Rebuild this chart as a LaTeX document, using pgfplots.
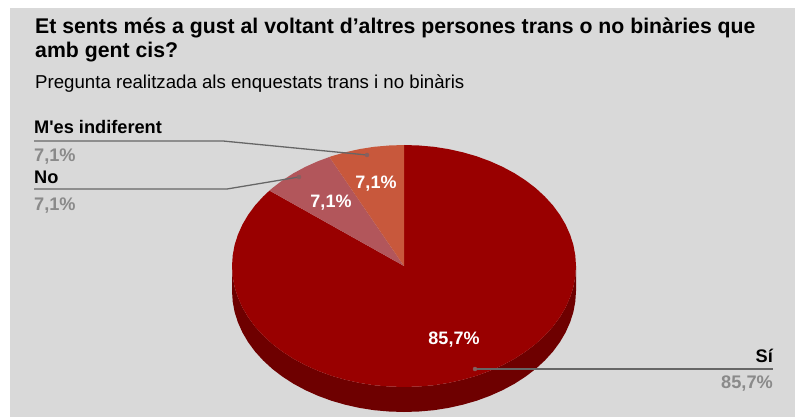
\documentclass[border=0pt]{standalone}
\usepackage{pgfplots}
\pgfplotsset{compat=1.18}
\usepackage{fontspec}
\setmainfont{Liberation Sans}
\newfontfamily\plainapos[Ligatures=NoCommon]{Liberation Sans}

\definecolor{bg}{HTML}{D9D9D9}
\definecolor{si}{HTML}{990000}
\definecolor{sidark}{HTML}{6E0000}
\definecolor{noslice}{HTML}{B2565B}
\definecolor{mes}{HTML}{C8583C}
\definecolor{leader}{HTML}{666666}
\definecolor{pct}{HTML}{8A8A8A}

\begin{document}
\begin{tikzpicture}
\begin{axis}[
  scale only axis,
  width=795pt,
  height=417pt,
  xmin=0, xmax=795,
  ymin=0, ymax=417,
  y dir=reverse,
  axis lines=none,
  clip=true,
]
% page and panel
\addplot[fill=white, draw=none] coordinates {(0,0) (795,0) (795,417) (0,417)} -- cycle;
\addplot[fill=bg, draw=none] coordinates {(10,8) (795,8) (795,417) (10,417)} -- cycle;

% pie side, lower half of the rim
\addplot[fill=sidark, draw=none] coordinates {
  (576,266) (575.3,276.5) (573.4,287) (570.1,297.3) (565.6,307.4) (559.9,317.1) (553,326.5)
  (544.9,335.4) (535.8,343.8) (525.6,351.6) (514.6,358.7) (502.7,365.1) (490,370.8)
  (476.7,375.7) (462.8,379.7) (448.5,382.9) (433.9,385.2) (419,386.5) (404,387)
  (389,386.5) (374.1,385.2) (359.5,382.9) (345.2,379.7) (331.3,375.7) (318,370.8)
  (305.3,365.1) (293.4,358.7) (282.4,351.6) (272.2,343.8) (263.1,335.4) (255,326.5)
  (248.1,317.1) (242.4,307.4) (237.9,297.3) (234.6,287) (232.7,276.5) (232,266)
  (232,291) (232.7,301.5) (234.6,312) (237.9,322.3) (242.4,332.4) (248.1,342.1) (255,351.5)
  (263.1,360.4) (272.2,368.8) (282.4,376.6) (293.4,383.7) (305.3,390.1) (318,395.8)
  (331.3,400.7) (345.2,404.7) (359.5,407.9) (374.1,410.2) (389,411.5) (404,412)
  (419,411.5) (433.9,410.2) (448.5,407.9) (462.8,404.7) (476.7,400.7) (490,395.8)
  (502.7,390.1) (514.6,383.7) (525.6,376.6) (535.8,368.8) (544.9,360.4) (553,351.5)
  (559.9,342.1) (565.6,332.4) (570.1,322.3) (573.4,312) (575.3,301.5) (576,291)
} -- cycle;

% Sí, 85,7%
\addplot[fill=si, draw=none] coordinates {
  (404,266) (404,145) (419,145.5) (433.9,146.8) (448.5,149.1) (462.8,152.3) (476.7,156.3)
  (490,161.2) (502.7,166.9) (514.6,173.3) (525.6,180.4) (535.8,188.2) (544.9,196.6)
  (553,205.5) (559.9,214.9) (565.6,224.6) (570.1,234.7) (573.4,245) (575.3,255.5) (576,266)
  (575.3,276.5) (573.4,287) (570.1,297.3) (565.6,307.4) (559.9,317.1) (553,326.5)
  (544.9,335.4) (535.8,343.8) (525.6,351.6) (514.6,358.7) (502.7,365.1) (490,370.8)
  (476.7,375.7) (462.8,379.7) (448.5,382.9) (433.9,385.2) (419,386.5) (404,387)
  (389,386.5) (374.1,385.2) (359.5,382.9) (345.2,379.7) (331.3,375.7) (318,370.8)
  (305.3,365.1) (293.4,358.7) (282.4,351.6) (272.2,343.8) (263.1,335.4) (255,326.5)
  (248.1,317.1) (242.4,307.4) (237.9,297.3) (234.6,287) (232.7,276.5) (232,266)
  (232.7,255.5) (234.6,245) (237.9,234.7) (242.4,224.6) (248.1,214.9) (255,205.5)
  (263.1,196.6) (269.5,190.6)
} -- cycle;
% No, 7,1%
\addplot[fill=noslice, draw=none] coordinates {
  (404,266) (269.5,190.6) (272.2,188.2) (282.4,180.4) (293.4,173.3) (305.3,166.9) (318,161.2) (329.4,157)
} -- cycle;
% M'es indiferent, 7,1%
\addplot[fill=mes, draw=none] coordinates {
  (404,266) (329.4,157) (331.3,156.3) (345.2,152.3) (359.5,149.1) (374.1,146.8) (389,145.5) (404,145)
} -- cycle;

% leader lines
\addplot[leader, line width=1.3pt] coordinates {(34,141) (223,141) (367,155)};
\addplot[leader, line width=1.3pt] coordinates {(34,189) (227,189) (299,177)};
\addplot[leader, line width=1.3pt] coordinates {(475,369) (773,369)};
\addplot[only marks, mark=*, mark size=2pt, color=gray!75!si, mark options={draw=none}]
  coordinates {(367,155) (299,177) (475,369)};

% title and subtitle
\node[anchor=base west, inner sep=0pt, font=\bfseries\fontsize{21.25}{22}\selectfont] at (axis cs:35,34) {Et sents més a gust al voltant d’altres persones trans o no binàries que};
\node[anchor=base west, inner sep=0pt, font=\bfseries\fontsize{21.25}{22}\selectfont] at (axis cs:35,58) {amb gent cis?};
\node[anchor=base west, inner sep=0pt, font=\fontsize{18.65}{19}\selectfont] at (axis cs:35,89) {Pregunta realitzada als enquestats trans i no binàris};

% outside labels
\node[anchor=base west, inner sep=0pt, font=\plainapos\bfseries\fontsize{18.2}{18}\selectfont] at (axis cs:34,134) {M'es indiferent};
\node[anchor=base west, inner sep=0pt, text=pct, font=\bfseries\fontsize{18.2}{18}\selectfont] at (axis cs:34,161) {7,1\%};
\node[anchor=base west, inner sep=0pt, font=\bfseries\fontsize{18.2}{18}\selectfont] at (axis cs:34,183) {No};
\node[anchor=base west, inner sep=0pt, text=pct, font=\bfseries\fontsize{18.2}{18}\selectfont] at (axis cs:34,210) {7,1\%};
\node[anchor=base east, inner sep=0pt, font=\bfseries\fontsize{18.2}{18}\selectfont] at (axis cs:773,362) {Sí};
\node[anchor=base east, inner sep=0pt, text=pct, font=\bfseries\fontsize{18.2}{18}\selectfont] at (axis cs:773,388) {85,7\%};

% labels on the slices
\node[text=white, inner sep=0pt, font=\bfseries\fontsize{18}{18}\selectfont] at (axis cs:376,184) {7,1\%};
\node[text=white, inner sep=0pt, font=\bfseries\fontsize{18}{18}\selectfont] at (axis cs:331,203) {7,1\%};
\node[text=white, inner sep=0pt, font=\bfseries\fontsize{18}{18}\selectfont] at (axis cs:454,340) {85,7\%};
\end{axis}
\end{tikzpicture}
\end{document}
